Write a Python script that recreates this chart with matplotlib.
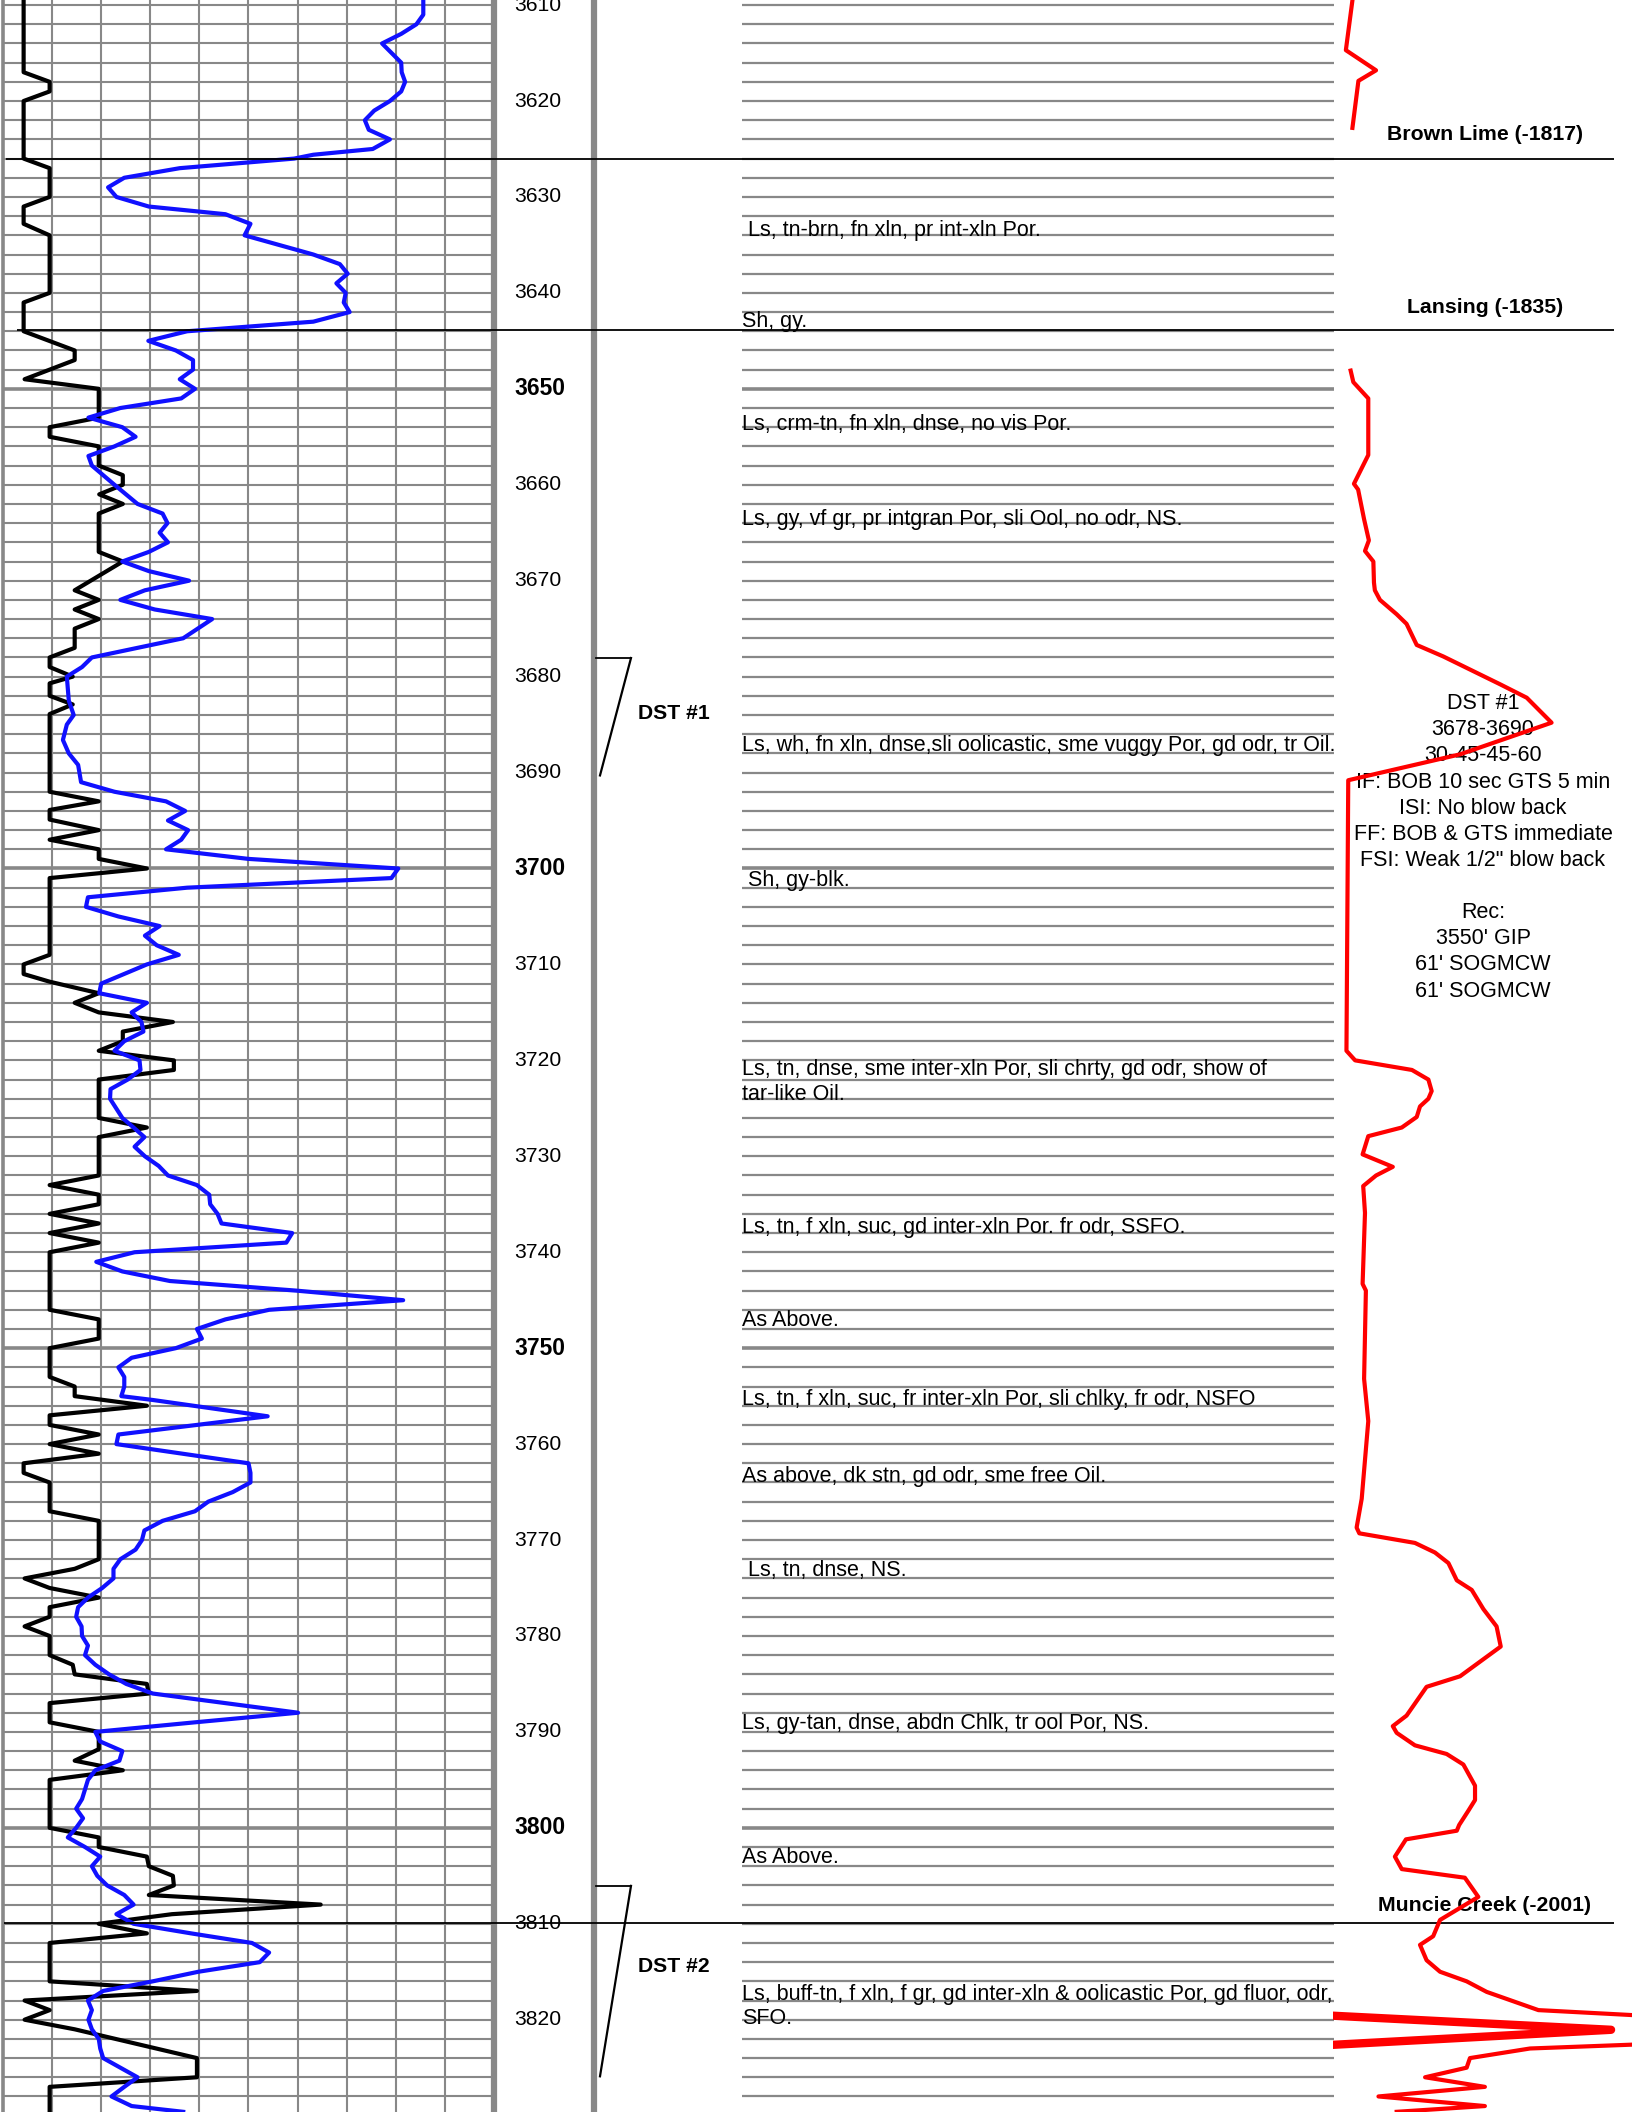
# -*- coding: utf-8 -*-
"""
Well log strip: GR / porosity curves, depth track, lithology descriptions, gas curve
"""

import numpy as np
import matplotlib
matplotlib.use('Agg')
import matplotlib.pyplot as plt

plt.rcParams['font.family'] = ['Liberation Sans', 'DejaVu Sans']

W, H = 1632, 2112
top_depth, bottom_depth = 3609.47, 3829.62
GRID = '#888888'

# === 左道：黑色曲线 (grid units 0-10) ===
gr_depth = [3609.5, 3617.0, 3618.0, 3619.0, 3620.0, 3626.0, 3627.0, 3630.0, 3631.0, 3632.8,
            3634.0, 3640.0, 3641.0, 3644.0, 3646.0, 3647.0, 3649.0, 3650.0, 3653.0, 3654.0,
            3655.0, 3656.0, 3658.0, 3659.0, 3660.0, 3661.0, 3662.0, 3663.0, 3667.0, 3668.0,
            3671.0, 3672.0, 3673.0, 3674.0, 3675.0, 3677.0, 3678.0, 3679.0, 3680.0, 3680.7,
            3682.0, 3682.9, 3683.9, 3692.0, 3693.0, 3693.9, 3694.9, 3696.0, 3697.0, 3698.0,
            3699.0, 3700.0, 3701.0, 3709.0, 3710.0, 3711.0, 3711.8, 3713.0, 3714.0, 3715.0,
            3716.0, 3717.0, 3718.0, 3719.0, 3720.0, 3721.0, 3722.0, 3726.0, 3727.0, 3728.0,
            3732.0, 3733.0, 3734.0, 3735.0, 3736.0, 3737.0, 3738.0, 3739.0, 3740.0, 3746.0,
            3747.0, 3749.0, 3750.0, 3753.0, 3754.0, 3755.0, 3756.0, 3757.0, 3758.0, 3759.0,
            3760.0, 3761.0, 3762.0, 3763.0, 3764.0, 3767.0, 3768.0, 3772.0, 3773.0, 3774.0,
            3775.0, 3776.0, 3777.0, 3778.0, 3779.0, 3780.0, 3782.0, 3783.0, 3784.0, 3785.0,
            3786.0, 3787.0, 3789.0, 3790.0, 3791.8, 3793.0, 3794.0, 3795.0, 3800.0, 3801.0,
            3802.0, 3803.0, 3804.0, 3805.0, 3806.0, 3807.0, 3808.0, 3809.0, 3810.0, 3811.0,
            3812.0, 3816.0, 3817.0, 3818.0, 3819.0, 3820.0, 3821.0, 3824.0, 3826.0, 3827.0,
            3829.6]
gr_value = [0.42, 0.42, 0.95, 0.95, 0.42, 0.42, 0.95, 0.95, 0.42, 0.42,
            0.95, 0.95, 0.42, 0.42, 1.46, 1.46, 0.44, 1.95, 1.95, 0.95,
            0.95, 1.95, 1.95, 2.44, 2.44, 1.96, 2.44, 1.95, 1.95, 2.44,
            1.46, 1.95, 1.46, 1.95, 1.46, 1.46, 0.95, 0.95, 1.42, 0.95,
            0.95, 1.42, 0.95, 0.95, 1.95, 0.95, 0.95, 1.95, 0.95, 1.95,
            1.95, 2.93, 0.95, 0.95, 0.42, 0.42, 0.95, 1.95, 1.46, 1.95,
            3.46, 2.44, 2.44, 1.95, 3.48, 3.48, 1.95, 1.95, 2.93, 1.95,
            1.95, 0.95, 1.95, 1.95, 0.95, 1.95, 0.95, 1.95, 0.95, 0.95,
            1.95, 1.95, 0.95, 0.95, 1.46, 1.46, 2.93, 0.95, 0.95, 1.95,
            0.95, 1.95, 0.42, 0.42, 0.95, 0.95, 1.95, 1.95, 1.46, 0.44,
            0.95, 1.95, 0.95, 0.95, 0.44, 0.95, 0.95, 1.42, 1.46, 2.93,
            2.97, 0.95, 0.95, 1.95, 1.95, 1.46, 2.44, 0.95, 0.95, 1.95,
            1.95, 2.93, 2.97, 3.46, 3.48, 2.97, 6.47, 3.44, 1.95, 2.93,
            0.95, 0.95, 3.95, 0.44, 0.95, 0.44, 1.46, 3.95, 3.95, 0.95,
            0.95]

# === 左道：蓝色曲线 ===
blue_depth = [3609.5, 3611.0, 3612.0, 3613.0, 3614.0, 3616.0, 3617.0, 3618.0, 3619.0, 3620.0,
              3621.0, 3622.0, 3623.0, 3624.0, 3625.0, 3625.6, 3626.0, 3627.0, 3628.0, 3629.0,
              3630.0, 3631.0, 3631.8, 3632.8, 3634.0, 3636.0, 3637.0, 3638.0, 3639.0, 3640.0,
              3641.0, 3642.0, 3643.0, 3644.0, 3645.0, 3646.0, 3647.0, 3648.0, 3649.0, 3650.0,
              3651.0, 3652.0, 3653.0, 3654.0, 3655.0, 3656.0, 3657.0, 3658.0, 3660.0, 3662.0,
              3663.0, 3664.0, 3665.0, 3666.0, 3667.0, 3668.0, 3669.0, 3670.0, 3671.0, 3672.0,
              3673.0, 3674.0, 3676.0, 3678.0, 3679.0, 3680.0, 3682.5, 3684.0, 3685.0, 3686.6,
              3688.0, 3689.2, 3691.0, 3692.0, 3693.0, 3694.0, 3695.0, 3696.0, 3697.0, 3698.0,
              3699.0, 3700.0, 3701.0, 3702.0, 3703.0, 3704.0, 3705.0, 3706.0, 3707.0, 3708.0,
              3709.0, 3710.0, 3712.0, 3713.0, 3714.0, 3715.0, 3716.0, 3717.0, 3718.0, 3719.0,
              3720.0, 3721.0, 3722.0, 3723.0, 3724.0, 3726.0, 3727.0, 3728.0, 3729.0, 3730.0,
              3731.0, 3732.0, 3733.0, 3734.0, 3735.0, 3736.0, 3737.0, 3738.0, 3739.0, 3740.0,
              3741.0, 3742.0, 3743.0, 3744.0, 3745.0, 3746.0, 3747.0, 3748.0, 3749.0, 3750.0,
              3751.0, 3752.0, 3753.0, 3754.0, 3755.0, 3755.4, 3757.1, 3759.0, 3760.0, 3762.0,
              3763.0, 3764.0, 3765.0, 3766.0, 3767.0, 3768.0, 3769.0, 3770.0, 3771.0, 3772.0,
              3773.0, 3774.0, 3775.0, 3776.0, 3777.0, 3778.0, 3779.0, 3780.0, 3781.0, 3782.0,
              3783.0, 3784.0, 3785.0, 3786.0, 3788.0, 3789.0, 3790.0, 3791.0, 3792.0, 3793.0,
              3794.0, 3795.0, 3796.0, 3797.0, 3798.0, 3799.0, 3800.0, 3801.0, 3802.0, 3803.0,
              3804.0, 3805.0, 3806.0, 3807.0, 3808.0, 3809.0, 3810.0, 3811.0, 3812.0, 3813.0,
              3814.0, 3815.0, 3816.0, 3817.0, 3818.0, 3819.0, 3820.0, 3821.0, 3822.0, 3823.0,
              3824.0, 3825.0, 3826.0, 3827.0, 3828.0, 3829.0, 3829.6]
blue_value = [8.56, 8.56, 8.42, 8.11, 7.72, 8.11, 8.12, 8.19, 8.11, 7.88,
              7.56, 7.37, 7.45, 7.88, 7.53, 6.32, 5.93, 3.60, 2.47, 2.14,
              2.31, 2.97, 4.53, 5.04, 4.92, 6.32, 6.86, 7.02, 6.79, 6.98,
              6.94, 7.06, 6.32, 3.75, 2.96, 3.52, 3.87, 3.87, 3.60, 3.91,
              3.63, 2.39, 1.74, 2.43, 2.70, 2.27, 1.74, 1.81, 2.27, 2.74,
              3.25, 3.35, 3.19, 3.36, 2.97, 2.43, 2.97, 3.79, 2.89, 2.39,
              3.09, 4.26, 3.67, 1.81, 1.61, 1.30, 1.34, 1.44, 1.30, 1.22,
              1.34, 1.53, 1.59, 2.27, 3.32, 3.71, 3.36, 3.77, 3.63, 3.32,
              5.00, 8.05, 7.91, 3.75, 1.73, 1.69, 2.35, 3.19, 2.89, 3.13,
              3.58, 2.93, 2.00, 1.96, 2.93, 2.62, 2.82, 2.86, 2.47, 2.27,
              2.78, 2.80, 2.54, 2.19, 2.18, 2.43, 2.66, 2.88, 2.68, 2.89,
              3.17, 3.36, 3.95, 4.20, 4.22, 4.37, 4.45, 5.89, 5.77, 2.68,
              1.90, 2.43, 3.40, 5.97, 8.15, 5.42, 4.53, 3.95, 4.05, 3.52,
              2.62, 2.35, 2.47, 2.47, 2.41, 3.05, 5.39, 2.35, 2.31, 5.00,
              5.04, 5.04, 4.68, 4.18, 3.91, 3.25, 2.88, 2.83, 2.70, 2.39,
              2.25, 2.25, 2.02, 1.73, 1.53, 1.49, 1.60, 1.61, 1.73, 1.67,
              1.88, 2.16, 2.51, 3.05, 6.01, 3.91, 1.88, 1.98, 2.43, 2.37,
              1.88, 1.73, 1.67, 1.61, 1.49, 1.63, 1.49, 1.32, 1.67, 1.98,
              1.81, 1.92, 2.12, 2.47, 2.66, 2.31, 2.66, 3.83, 5.07, 5.42,
              5.23, 3.98, 3.05, 2.04, 1.73, 1.81, 1.74, 1.81, 1.95, 1.98,
              2.04, 2.39, 2.74, 2.47, 2.21, 2.62, 3.67]

# === 右道：红色曲线 (0-10) ===
red_depth_top = [3609.5, 3614.7, 3616.8, 3617.9, 3622.8]
red_value_top = [0.65, 0.43, 1.44, 0.85, 0.65]

red_depth = [3648.1, 3649.3, 3651.0, 3656.9, 3659.9, 3660.5, 3663.6, 3665.8, 3666.9, 3668.0,
             3670.2, 3671.0, 3672.0, 3673.5, 3674.5, 3676.7, 3677.9, 3680.8, 3682.2, 3684.8,
             3688.1, 3690.8, 3719.0, 3720.0, 3721.0, 3722.0, 3723.2, 3724.0, 3724.8, 3725.9,
             3727.0, 3727.9, 3729.8, 3731.1, 3732.0, 3733.1, 3735.9, 3743.3, 3744.0, 3753.2,
             3757.6, 3765.7, 3768.7, 3769.3, 3770.3, 3771.3, 3772.4, 3774.2, 3775.2, 3777.2,
             3779.0, 3781.1, 3784.2, 3785.3, 3788.3, 3789.4, 3790.1, 3791.4, 3792.3, 3793.4,
             3795.6, 3797.1, 3798.2, 3799.7, 3800.3, 3801.2, 3803.0, 3804.3, 3805.2, 3807.2,
             3809.6, 3811.3, 3812.2, 3813.8, 3815.0, 3816.0, 3817.1, 3819.0, 3821.05, 3822.6,
             3823.0, 3824.0, 3825.0, 3826.0, 3827.0, 3828.0, 3829.0, 3829.6]
red_value = [0.59, 0.68, 1.18, 1.18, 0.70, 0.84, 1.04, 1.20, 1.07, 1.35,
             1.37, 1.40, 1.57, 2.13, 2.46, 2.80, 3.69, 5.59, 6.48, 7.31,
             4.25, 0.51, 0.45, 0.74, 2.64, 3.19, 3.30, 3.19, 2.91, 2.80,
             2.30, 1.18, 0.99, 2.00, 1.44, 1.01, 1.07, 0.99, 1.10, 1.04,
             1.18, 0.96, 0.79, 0.88, 2.74, 3.41, 3.86, 4.14, 4.64, 5.03,
             5.47, 5.61, 4.25, 3.13, 2.46, 2.00, 2.13, 2.74, 3.80, 4.36,
             4.75, 4.75, 4.53, 4.22, 4.14, 2.44, 2.07, 2.30, 4.41, 4.86,
             3.58, 3.35, 2.91, 3.13, 3.58, 4.47, 5.14, 6.87, 19.3, 10.0,
             6.59, 4.58, 4.47, 3.08, 5.08, 1.52, 5.08, 2.13]

# 超出刻度的回绕部分（粗线）
red_wrap_depth = [3819.6, 3821.05, 3822.6]
red_wrap_value = [0.1, 9.3, 0.1]

# === 深度标注 ===
depth_ticks = list(range(3610, 3821, 10))
bold_ticks = [3650, 3700, 3750, 3800]

# === 地层顶界 ===
tops_name = ['Brown Lime (-1817)', 'Lansing (-1835)', 'Muncie Creek (-2001)']
tops_depth = [3626.0, 3643.9, 3809.9]
tops_label_depth = [3623.5, 3641.5, 3808.1]
tops_line_start = [6, 17, 4]

# === 岩性描述 ===
lith_text = [
    ' Ls, tn-brn, fn xln, pr int-xln Por.',
    'Sh, gy.',
    'Ls, crm-tn, fn xln, dnse, no vis Por.',
    'Ls, gy, vf gr, pr intgran Por, sli Ool, no odr, NS.',
    'Ls, wh, fn xln, dnse,sli oolicastic, sme vuggy Por, gd odr, tr Oil.',
    ' Sh, gy-blk.',
    'Ls, tn, dnse, sme inter-xln Por, sli chrty, gd odr, show of',
    'tar-like Oil.',
    'Ls, tn, f xln, suc, gd inter-xln Por. fr odr, SSFO.',
    'As Above.',
    'Ls, tn, f xln, suc, fr inter-xln Por, sli chlky, fr odr, NSFO',
    'As above, dk stn, gd odr, sme free Oil.',
    ' Ls, tn, dnse, NS.',
    'Ls, gy-tan, dnse, abdn Chlk, tr ool Por, NS.',
    'As Above.',
    'Ls, buff-tn, f xln, f gr, gd inter-xln & oolicastic Por, gd fluor, odr,',
    'SFO.',
]
lith_depth = [3634.1, 3643.6, 3654.3, 3664.2, 3687.8, 3701.8, 3721.5, 3724.1, 3738.0, 3747.7,
              3755.9, 3764.0, 3773.7, 3789.7, 3803.7, 3817.9, 3820.4]

# === DST ===
dst_name = ['DST #1', 'DST #2']
dst_top = [3678.06, 3806.05]
dst_bottom = [3690.3, 3825.9]
dst_label_depth = [3683.8, 3814.5]
dst1_text = ('DST #1\n3678-3690\n30-45-45-60\nIF: BOB 10 sec GTS 5 min\nISI: No blow back\n'
             'FF: BOB & GTS immediate\nFSI: Weak 1/2" blow back\n\nRec:\n3550\' GIP\n'
             '61\' SOGMCW\n61\' SOGMCW')

FS = 15.5

fig = plt.figure(figsize=(W / 100, H / 100), dpi=100)

# --- 左道 ---
ax_log = fig.add_axes([3 / W, 0, 491 / W, 1])
ax_log.set_xlim(0, 10)
ax_log.set_ylim(bottom_depth, top_depth)
ax_log.axis('off')
for d in np.arange(3610, 3830, 2):
    ax_log.axhline(d, color=GRID, lw=2.6 if d % 50 == 0 else 1.5, zorder=1)
for u in range(1, 10):
    ax_log.axvline(u, color=GRID, lw=1.5, zorder=1)
ax_log.axvline(0, color=GRID, lw=2.6, zorder=1, clip_on=False)
ax_log.plot(gr_value, gr_depth, color='black', lw=3.0, zorder=3)
ax_log.plot(blue_value, blue_depth, color='#1010ff', lw=3.0, zorder=4)

# --- 叠加层：道分隔、岩性、文字 ---
ax = fig.add_axes([0, 0, 1, 1])
ax.set_xlim(0, W)
ax.set_ylim(bottom_depth, top_depth)
ax.axis('off')
ax.patch.set_alpha(0)

ax.axvline(494, color=GRID, lw=4.5)
ax.axvline(593.5, color=GRID, lw=4.5)

for d in np.arange(3610, 3830, 2):
    ax.hlines(d, 742, 1334, color=GRID, lw=2.6 if d % 50 == 0 else 1.6, zorder=1)

for t in depth_ticks:
    bold = t in bold_ticks
    ax.text(514, t, str(t), ha='left', va='center',
            fontsize=16.5 if bold else 15.2, fontweight='bold' if bold else 'normal')

for name, d, ld, x0 in zip(tops_name, tops_depth, tops_label_depth, tops_line_start):
    ax.hlines(d, x0, 1614, color='black', lw=1.3, zorder=5)
    ax.text(1485, ld, name, ha='center', va='center', fontsize=15.3, fontweight='bold')

for txt, d in zip(lith_text, lith_depth):
    ax.text(742, d, txt, ha='left', va='baseline', fontsize=FS, zorder=6)

for name, t, b, ld in zip(dst_name, dst_top, dst_bottom, dst_label_depth):
    ax.plot([596, 631], [t, t], color='black', lw=1.3)
    ax.plot([631, 600], [t, b], color='black', lw=1.6)
    ax.text(674, ld, name, ha='center', va='center', fontsize=15.2, fontweight='bold')

ax.text(1483, 3697.8, dst1_text, ha='center', va='center', fontsize=FS, linespacing=1.32)

# --- 右道：红色曲线 ---
ax_red = fig.add_axes([1333 / W, 0, 299 / W, 1])
ax_red.set_xlim(0, 10)
ax_red.set_ylim(bottom_depth, top_depth)
ax_red.axis('off')
ax_red.patch.set_alpha(0)
ax_red.plot(red_value_top, red_depth_top, color='#ff0000', lw=3.0)
ax_red.plot(red_value, red_depth, color='#ff0000', lw=3.0)
ax_red.plot(red_wrap_value, red_wrap_depth, color='#ff0000', lw=6.0)

fig.savefig('out.png', dpi=100)
plt.close(fig)
